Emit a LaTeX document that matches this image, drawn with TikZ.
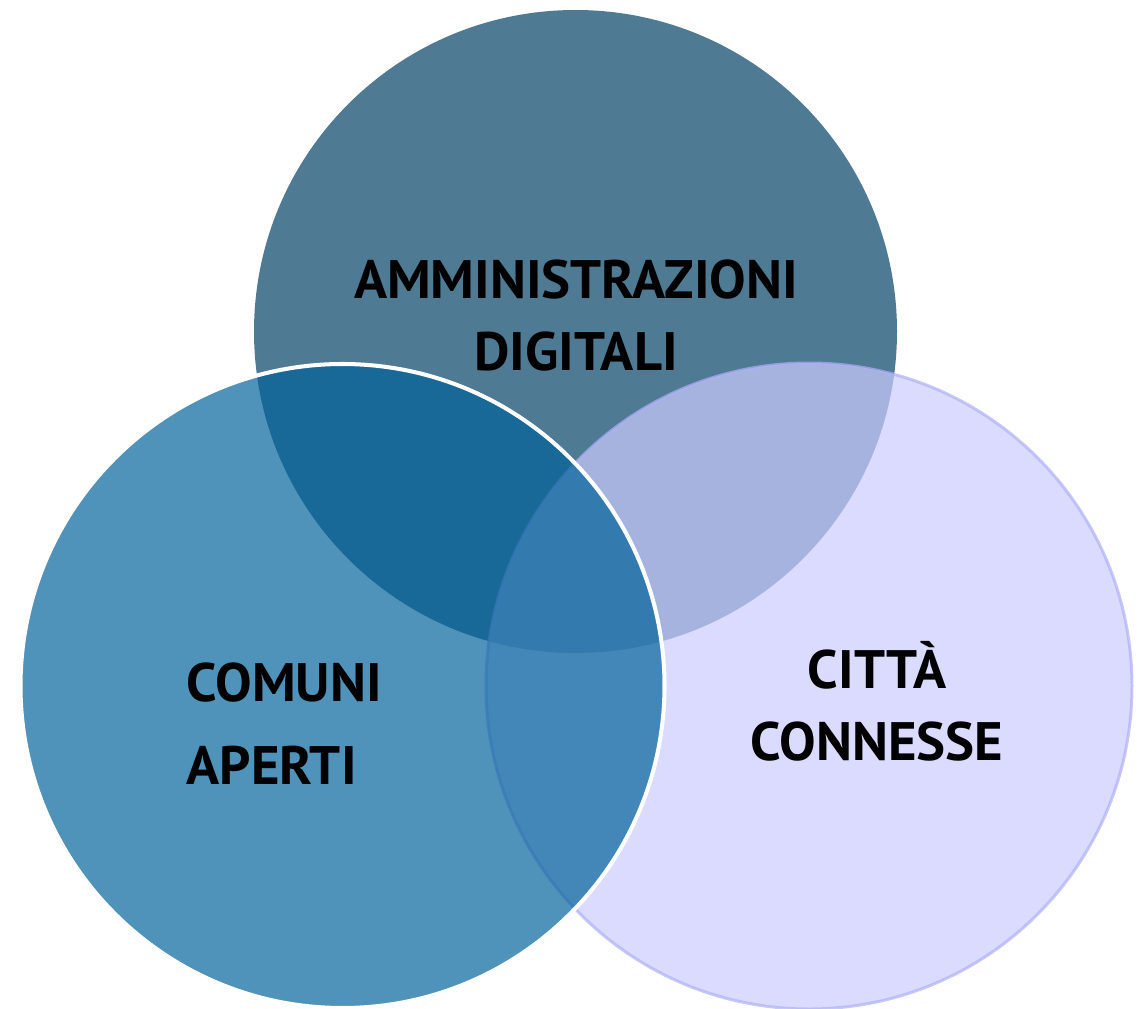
\documentclass[tikz,border=0pt]{standalone}
\usepackage{fontspec}
\newfontfamily\vennfont{PT Sans}[FakeStretch=1.01]
\definecolor{admblue}{RGB}{78,122,148}
\definecolor{comblue}{RGB}{0,97,155}
\definecolor{citlav}{RGB}{202,204,254}
\definecolor{citedge}{RGB}{176,176,245}

\begin{document}
\begin{tikzpicture}[x=0.01cm,y=-0.01cm,
  vennlabel/.style={inner sep=0pt,text=black,font={\vennfont\bfseries\fontsize{15.4}{20.5}\selectfont}}]
\useasboundingbox (0,0) rectangle (1145,1009);
\coordinate (cadm) at (575.5,331.5);
\coordinate (ccom) at (342.5,686);
\coordinate (ccit) at (809,686);

% amministrazioni digitali
\fill[admblue] (cadm) circle (321.5);
% citta connesse
\draw[fill=citlav,draw=citedge,fill opacity=0.7,draw opacity=0.7,line width=0.85pt] (ccit) circle (323);
% comuni aperti
\fill[comblue,fill opacity=0.69] (ccom) circle (322);
\draw[white,line width=1.15pt] (ccom) circle (322);

\node[vennlabel,align=center,anchor=south] (adm) at (576,372) {AMMINISTRAZIONI\\DIGITALI};
\node[vennlabel,align=left,anchor=south west,font={\vennfont\bfseries\fontsize{15.4}{23.6}\selectfont}] (com) at (186,785) {COMUNI\\APERTI};
\node[vennlabel,align=center,anchor=south] (cit) at (877,762) {CITTÀ\\CONNESSE};
\end{tikzpicture}
\end{document}
